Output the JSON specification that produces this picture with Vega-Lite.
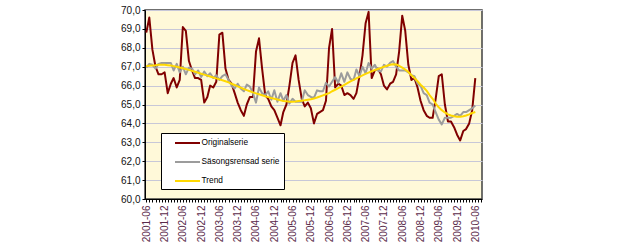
{
  "$schema": "https://vega.github.io/schema/vega-lite/v6.json",
  "width": 337,
  "height": 189,
  "autosize": {"type": "none"},
  "padding": {"left": 145, "top": 10, "right": 138, "bottom": 51},
  "background": "#ffffff",
  "config": {
    "font": "Liberation Sans",
    "view": {"fill": "#FFF9D9", "stroke": "#404040", "strokeWidth": 1.5}
  },
  "data": {
    "values": [
      {"m": "2001-06", "Originalserie": 68.8, "Säsongsrensad serie": 66.95, "Trend": 67.02},
      {"m": "2001-07", "Originalserie": 69.6, "Säsongsrensad serie": 67.15, "Trend": 67.05},
      {"m": "2001-08", "Originalserie": 67.9, "Säsongsrensad serie": 67.1, "Trend": 67.07},
      {"m": "2001-09", "Originalserie": 67.0, "Säsongsrensad serie": 66.9, "Trend": 67.08},
      {"m": "2001-10", "Originalserie": 66.6, "Säsongsrensad serie": 67.15, "Trend": 67.1},
      {"m": "2001-11", "Originalserie": 66.6, "Säsongsrensad serie": 67.2, "Trend": 67.1},
      {"m": "2001-12", "Originalserie": 66.7, "Säsongsrensad serie": 67.2, "Trend": 67.1},
      {"m": "2002-01", "Originalserie": 65.6, "Säsongsrensad serie": 67.2, "Trend": 67.08},
      {"m": "2002-02", "Originalserie": 66.1, "Säsongsrensad serie": 67.2, "Trend": 67.06},
      {"m": "2002-03", "Originalserie": 66.4, "Säsongsrensad serie": 66.8, "Trend": 67.03},
      {"m": "2002-04", "Originalserie": 65.9, "Säsongsrensad serie": 67.15, "Trend": 67.0},
      {"m": "2002-05", "Originalserie": 66.3, "Säsongsrensad serie": 66.7, "Trend": 66.96},
      {"m": "2002-06", "Originalserie": 69.1, "Säsongsrensad serie": 67.0, "Trend": 66.92},
      {"m": "2002-07", "Originalserie": 68.9, "Säsongsrensad serie": 66.6, "Trend": 66.88},
      {"m": "2002-08", "Originalserie": 67.3, "Säsongsrensad serie": 66.95, "Trend": 66.83},
      {"m": "2002-09", "Originalserie": 66.8, "Säsongsrensad serie": 66.9, "Trend": 66.78},
      {"m": "2002-10", "Originalserie": 66.4, "Säsongsrensad serie": 66.6, "Trend": 66.73},
      {"m": "2002-11", "Originalserie": 66.4, "Säsongsrensad serie": 66.8, "Trend": 66.68},
      {"m": "2002-12", "Originalserie": 66.3, "Säsongsrensad serie": 66.45, "Trend": 66.63},
      {"m": "2003-01", "Originalserie": 65.1, "Säsongsrensad serie": 66.75, "Trend": 66.58},
      {"m": "2003-02", "Originalserie": 65.4, "Säsongsrensad serie": 66.5, "Trend": 66.53},
      {"m": "2003-03", "Originalserie": 66.0, "Säsongsrensad serie": 66.65, "Trend": 66.48},
      {"m": "2003-04", "Originalserie": 65.9, "Säsongsrensad serie": 66.4, "Trend": 66.43},
      {"m": "2003-05", "Originalserie": 66.2, "Säsongsrensad serie": 66.55, "Trend": 66.38},
      {"m": "2003-06", "Originalserie": 68.7, "Säsongsrensad serie": 66.3, "Trend": 66.33},
      {"m": "2003-07", "Originalserie": 68.8, "Säsongsrensad serie": 66.5, "Trend": 66.28},
      {"m": "2003-08", "Originalserie": 66.9, "Säsongsrensad serie": 66.6, "Trend": 66.23},
      {"m": "2003-09", "Originalserie": 66.3, "Säsongsrensad serie": 66.3, "Trend": 66.17},
      {"m": "2003-10", "Originalserie": 66.1, "Säsongsrensad serie": 66.0, "Trend": 66.1},
      {"m": "2003-11", "Originalserie": 65.6, "Säsongsrensad serie": 65.85, "Trend": 66.03},
      {"m": "2003-12", "Originalserie": 65.1, "Säsongsrensad serie": 66.1, "Trend": 65.96},
      {"m": "2004-01", "Originalserie": 64.7, "Säsongsrensad serie": 65.85, "Trend": 65.89},
      {"m": "2004-02", "Originalserie": 64.4, "Säsongsrensad serie": 65.7, "Trend": 65.82},
      {"m": "2004-03", "Originalserie": 65.0, "Säsongsrensad serie": 66.05, "Trend": 65.76},
      {"m": "2004-04", "Originalserie": 65.4, "Säsongsrensad serie": 65.95, "Trend": 65.7},
      {"m": "2004-05", "Originalserie": 65.4, "Säsongsrensad serie": 65.6, "Trend": 65.64},
      {"m": "2004-06", "Originalserie": 67.8, "Säsongsrensad serie": 65.1, "Trend": 65.59},
      {"m": "2004-07", "Originalserie": 68.5, "Säsongsrensad serie": 65.9, "Trend": 65.54},
      {"m": "2004-08", "Originalserie": 66.9, "Säsongsrensad serie": 65.6, "Trend": 65.49},
      {"m": "2004-09", "Originalserie": 65.5, "Säsongsrensad serie": 65.5, "Trend": 65.44},
      {"m": "2004-10", "Originalserie": 65.3, "Säsongsrensad serie": 65.7, "Trend": 65.39},
      {"m": "2004-11", "Originalserie": 64.9, "Säsongsrensad serie": 65.25, "Trend": 65.34},
      {"m": "2004-12", "Originalserie": 64.7, "Säsongsrensad serie": 65.75, "Trend": 65.3},
      {"m": "2005-01", "Originalserie": 64.3, "Säsongsrensad serie": 65.15, "Trend": 65.26},
      {"m": "2005-02", "Originalserie": 63.9, "Säsongsrensad serie": 65.6, "Trend": 65.22},
      {"m": "2005-03", "Originalserie": 64.6, "Säsongsrensad serie": 65.2, "Trend": 65.19},
      {"m": "2005-04", "Originalserie": 65.0, "Säsongsrensad serie": 65.5, "Trend": 65.17},
      {"m": "2005-05", "Originalserie": 66.0, "Säsongsrensad serie": 65.05, "Trend": 65.15},
      {"m": "2005-06", "Originalserie": 67.2, "Säsongsrensad serie": 65.3, "Trend": 65.15},
      {"m": "2005-07", "Originalserie": 67.6, "Säsongsrensad serie": 65.15, "Trend": 65.16},
      {"m": "2005-08", "Originalserie": 66.3, "Säsongsrensad serie": 65.15, "Trend": 65.18},
      {"m": "2005-09", "Originalserie": 65.3, "Säsongsrensad serie": 65.15, "Trend": 65.2},
      {"m": "2005-10", "Originalserie": 64.9, "Säsongsrensad serie": 65.75, "Trend": 65.22},
      {"m": "2005-11", "Originalserie": 65.1, "Säsongsrensad serie": 65.5, "Trend": 65.25},
      {"m": "2005-12", "Originalserie": 64.8, "Säsongsrensad serie": 65.4, "Trend": 65.28},
      {"m": "2006-01", "Originalserie": 64.0, "Säsongsrensad serie": 65.35, "Trend": 65.32},
      {"m": "2006-02", "Originalserie": 64.5, "Säsongsrensad serie": 65.75, "Trend": 65.37},
      {"m": "2006-03", "Originalserie": 64.6, "Säsongsrensad serie": 65.7, "Trend": 65.42},
      {"m": "2006-04", "Originalserie": 64.7, "Säsongsrensad serie": 65.7, "Trend": 65.48},
      {"m": "2006-05", "Originalserie": 65.2, "Säsongsrensad serie": 66.15, "Trend": 65.54},
      {"m": "2006-06", "Originalserie": 68.0, "Säsongsrensad serie": 65.95, "Trend": 65.6},
      {"m": "2006-07", "Originalserie": 69.0, "Säsongsrensad serie": 66.2, "Trend": 65.7},
      {"m": "2006-08", "Originalserie": 65.9, "Säsongsrensad serie": 66.45, "Trend": 65.78},
      {"m": "2006-09", "Originalserie": 66.1, "Säsongsrensad serie": 66.15, "Trend": 65.87},
      {"m": "2006-10", "Originalserie": 66.0, "Säsongsrensad serie": 66.65, "Trend": 65.95},
      {"m": "2006-11", "Originalserie": 65.5, "Säsongsrensad serie": 66.2, "Trend": 66.04},
      {"m": "2006-12", "Originalserie": 65.6, "Säsongsrensad serie": 66.7, "Trend": 66.13},
      {"m": "2007-01", "Originalserie": 65.5, "Säsongsrensad serie": 66.35, "Trend": 66.22},
      {"m": "2007-02", "Originalserie": 65.3, "Säsongsrensad serie": 66.3, "Trend": 66.3},
      {"m": "2007-03", "Originalserie": 65.6, "Säsongsrensad serie": 66.85, "Trend": 66.38},
      {"m": "2007-04", "Originalserie": 66.5, "Säsongsrensad serie": 66.5, "Trend": 66.46},
      {"m": "2007-05", "Originalserie": 67.6, "Säsongsrensad serie": 67.0, "Trend": 66.54},
      {"m": "2007-06", "Originalserie": 69.3, "Säsongsrensad serie": 66.65, "Trend": 66.62},
      {"m": "2007-07", "Originalserie": 69.9, "Säsongsrensad serie": 67.2, "Trend": 66.69},
      {"m": "2007-08", "Originalserie": 66.4, "Säsongsrensad serie": 66.9, "Trend": 66.76},
      {"m": "2007-09", "Originalserie": 66.8, "Säsongsrensad serie": 67.1, "Trend": 66.82},
      {"m": "2007-10", "Originalserie": 66.9, "Säsongsrensad serie": 66.8, "Trend": 66.88},
      {"m": "2007-11", "Originalserie": 66.6, "Säsongsrensad serie": 66.75, "Trend": 66.94},
      {"m": "2007-12", "Originalserie": 66.0, "Säsongsrensad serie": 67.1, "Trend": 67.0},
      {"m": "2008-01", "Originalserie": 65.8, "Säsongsrensad serie": 67.0, "Trend": 67.05},
      {"m": "2008-02", "Originalserie": 66.1, "Säsongsrensad serie": 67.2, "Trend": 67.1},
      {"m": "2008-03", "Originalserie": 66.2, "Säsongsrensad serie": 67.3, "Trend": 67.13},
      {"m": "2008-04", "Originalserie": 66.6, "Säsongsrensad serie": 67.0, "Trend": 67.12},
      {"m": "2008-05", "Originalserie": 67.8, "Säsongsrensad serie": 66.8, "Trend": 67.05},
      {"m": "2008-06", "Originalserie": 69.7, "Säsongsrensad serie": 66.8, "Trend": 66.95},
      {"m": "2008-07", "Originalserie": 68.9, "Säsongsrensad serie": 66.8, "Trend": 66.85},
      {"m": "2008-08", "Originalserie": 67.1, "Säsongsrensad serie": 66.7, "Trend": 66.72},
      {"m": "2008-09", "Originalserie": 66.3, "Säsongsrensad serie": 66.55, "Trend": 66.55},
      {"m": "2008-10", "Originalserie": 66.4, "Säsongsrensad serie": 66.5, "Trend": 66.4},
      {"m": "2008-11", "Originalserie": 65.9, "Säsongsrensad serie": 66.1, "Trend": 66.23},
      {"m": "2008-12", "Originalserie": 65.2, "Säsongsrensad serie": 66.0, "Trend": 66.05},
      {"m": "2009-01", "Originalserie": 64.7, "Säsongsrensad serie": 65.6, "Trend": 65.9},
      {"m": "2009-02", "Originalserie": 64.4, "Säsongsrensad serie": 65.5, "Trend": 65.72},
      {"m": "2009-03", "Originalserie": 64.3, "Säsongsrensad serie": 65.1, "Trend": 65.5},
      {"m": "2009-04", "Originalserie": 64.3, "Säsongsrensad serie": 65.0, "Trend": 65.3},
      {"m": "2009-05", "Originalserie": 65.3, "Säsongsrensad serie": 64.6, "Trend": 65.05},
      {"m": "2009-06", "Originalserie": 66.5, "Säsongsrensad serie": 64.2, "Trend": 64.85},
      {"m": "2009-07", "Originalserie": 66.6, "Säsongsrensad serie": 63.95, "Trend": 64.7},
      {"m": "2009-08", "Originalserie": 65.0, "Säsongsrensad serie": 64.3, "Trend": 64.58},
      {"m": "2009-09", "Originalserie": 64.1, "Säsongsrensad serie": 64.3, "Trend": 64.48},
      {"m": "2009-10", "Originalserie": 64.1, "Säsongsrensad serie": 64.3, "Trend": 64.42},
      {"m": "2009-11", "Originalserie": 63.8, "Säsongsrensad serie": 64.4, "Trend": 64.38},
      {"m": "2009-12", "Originalserie": 63.4, "Säsongsrensad serie": 64.5, "Trend": 64.35},
      {"m": "2010-01", "Originalserie": 63.1, "Säsongsrensad serie": 64.4, "Trend": 64.35},
      {"m": "2010-02", "Originalserie": 63.6, "Säsongsrensad serie": 64.6, "Trend": 64.38},
      {"m": "2010-03", "Originalserie": 63.7, "Säsongsrensad serie": 64.6, "Trend": 64.42},
      {"m": "2010-04", "Originalserie": 64.0, "Säsongsrensad serie": 64.7, "Trend": 64.48},
      {"m": "2010-05", "Originalserie": 64.7, "Säsongsrensad serie": 64.8, "Trend": 64.55},
      {"m": "2010-06", "Originalserie": 66.4, "Säsongsrensad serie": 64.95, "Trend": 64.6}
    ]
  },
  "transform": [
    {"fold": ["Originalserie", "Säsongsrensad serie", "Trend"], "as": ["serie", "varde"]}
  ],
  "mark": {"type": "line", "strokeJoin": "round"},
  "encoding": {
    "x": {
      "field": "m",
      "type": "temporal",
      "scale": {
        "type": "utc",
        "domain": [
          {"year": 2001, "month": 5, "date": 19, "utc": true},
          {"year": 2010, "month": 8, "date": 7, "utc": true}
        ]
      },
      "axis": {
        "title": null,
        "tickCount": {"interval": "month", "step": 1},
        "labelExpr": "(utcmonth(datum.value) == 5 || utcmonth(datum.value) == 11) ? utcFormat(datum.value, '%Y-%m') : ''",
        "labelAngle": 270,
        "labelOverlap": false,
        "labelFlush": false,
        "labelBound": false,
        "grid": false,
        "domainColor": "#000000",
        "tickColor": "#000000",
        "tickSize": 3,
        "labelFontSize": 10,
        "labelColor": "#5A2A4A",
        "labelPadding": 3
      }
    },
    "y": {
      "field": "varde",
      "type": "quantitative",
      "scale": {"domain": [60, 70], "nice": false, "zero": false},
      "axis": {
        "title": null,
        "values": [60, 61, 62, 63, 64, 65, 66, 67, 68, 69, 70],
        "labelExpr": "replace(format(datum.value, '.1f'), '.', ',')",
        "grid": true,
        "gridColor": "#C8C8D8",
        "domainColor": "#000000",
        "tickColor": "#000000",
        "tickSize": 3,
        "labelFontSize": 10,
        "labelColor": "#111111",
        "labelPadding": 2
      }
    },
    "color": {
      "field": "serie",
      "type": "nominal",
      "scale": {
        "domain": ["Originalserie", "Säsongsrensad serie", "Trend"],
        "range": ["#800000", "#9C9C9C", "#FFD800"]
      },
      "legend": {
        "orient": "none",
        "legendX": 16,
        "legendY": 123,
        "title": null,
        "symbolType": "M-2.5,0H2.5",
        "symbolSize": 100,
        "symbolStrokeWidth": 2,
        "symbolOffset": 16.5,
        "labelOffset": 8,
        "labelFontSize": 8.3,
        "labelColor": "#000000",
        "fillColor": "#ffffff",
        "strokeColor": "#000000",
        "padding": 4,
        "rowPadding": 9
      }
    },
    "strokeWidth": {
      "field": "serie",
      "type": "nominal",
      "scale": {
        "domain": ["Originalserie", "Säsongsrensad serie", "Trend"],
        "range": [2, 2, 1]
      },
      "legend": null
    }
  }
}
